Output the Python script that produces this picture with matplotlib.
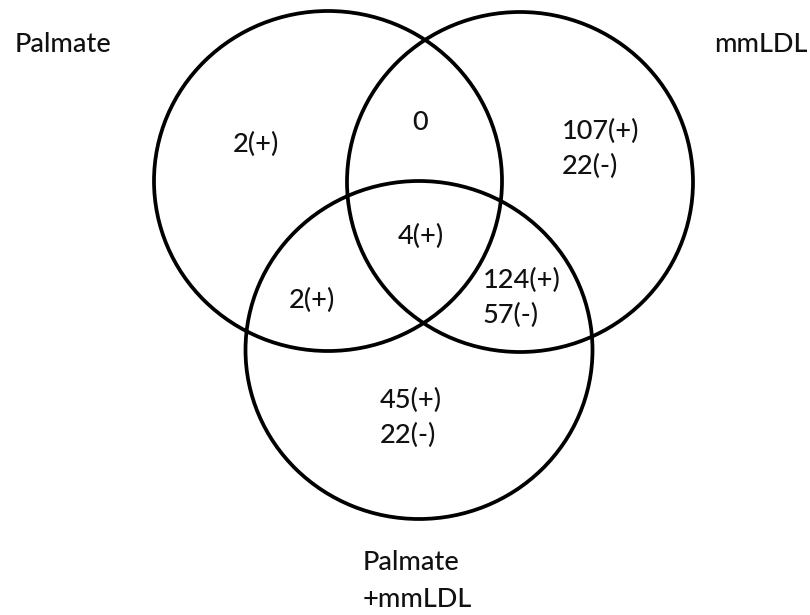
import matplotlib
matplotlib.use("Agg")
import matplotlib.pyplot as plt
from matplotlib.patches import Ellipse

plt.rcParams['font.family'] = ['Lato', 'DejaVu Sans']

# set names
set_names = ["Palmate", "mmLDL", "Palmate\n+mmLDL"]

# region counts: (up, down); None means no entry
region_names = ["Palmate only", "Palmate&mmLDL", "mmLDL only", "all three",
                "Palmate&combo", "mmLDL&combo", "combo only"]
up_counts = [2, 0, 107, 4, 2, 124, 45]
down_counts = [None, None, 22, None, None, 57, 22]

# circle geometry in pixel space (x, y, width, height)
circles = [(328, 181, 348, 340), (520, 182, 346, 340), (419, 350, 347, 338)]

# label spots
name_pos = [(15, 45, 'left'), (807, 45, 'right'), (363, 581, 'left')]
region_pos = [(256, 144, 'center'), (420, 123, 'center'), (562, 149, 'left'),
              (421, 236, 'center'), (312, 300, 'center'), (483, 298, 'left'),
              (380, 418, 'left')]

fig = plt.figure(figsize=(8.1, 6.15), dpi=100)
ax = fig.add_axes([0, 0, 1, 1])
ax.set_xlim(0, 810)
ax.set_ylim(615, 0)
ax.axis('off')

for cx, cy, w, h in circles:
    ax.add_patch(Ellipse((cx, cy), w, h, fill=False, edgecolor='black', lw=2.7))

for name, (x, y, ha) in zip(set_names, name_pos):
    ax.text(x, y, name, ha=ha, va='center', fontsize=19.5, color='#111111',
            linespacing=1.6, fontweight='medium')

for up, down, (x, y, ha) in zip(up_counts, down_counts, region_pos):
    if up == 0 and down is None:
        txt = "0"
    elif down is None:
        txt = f"{up}(+)"
    else:
        txt = f"{up}(+)\n{down}(-)"
    ax.text(x, y, txt, ha=ha, va='center', fontsize=19.5, color='#111111',
            linespacing=1.5, multialignment='left', fontweight='medium')

fig.savefig("out.png", dpi=100)
